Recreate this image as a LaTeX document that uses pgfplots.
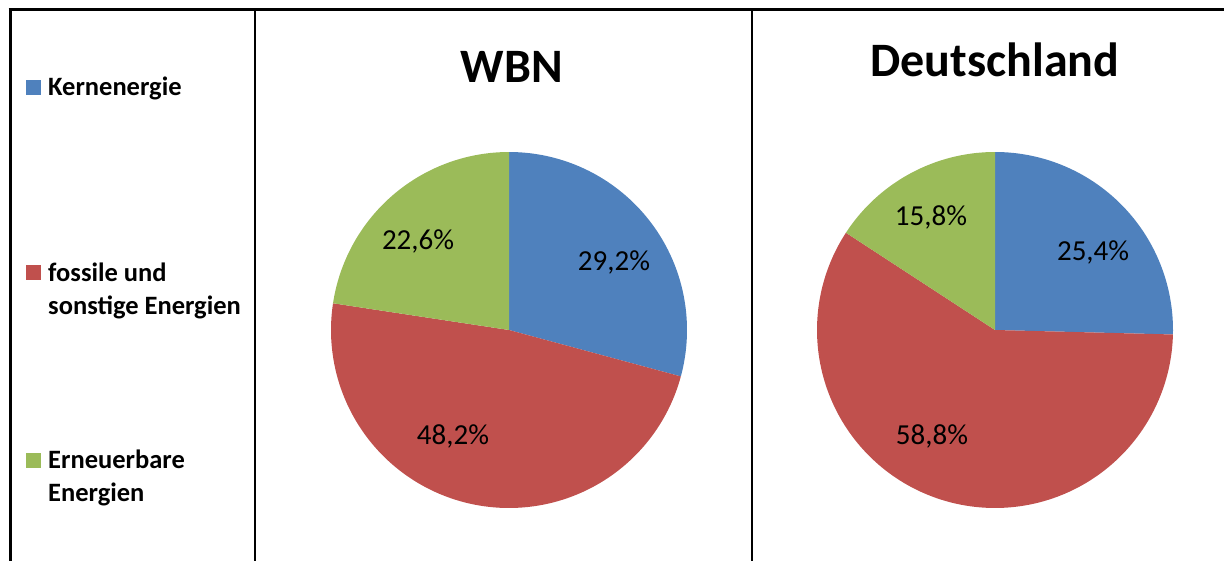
\documentclass[border=0pt]{standalone}
\usepackage{pgfplots}
\pgfplotsset{compat=1.18}
\usepackage{fontspec}
\setmainfont{Carlito}
\definecolor{kern}{HTML}{4F81BD}
\definecolor{foss}{HTML}{C0504D}
\definecolor{ern}{HTML}{9BBB59}
% values (percent)
\def\wKern{29.2}\def\wFoss{48.2}\def\wErn{22.6}
\def\dKern{25.4}\def\dFoss{58.8}\def\dErn{15.8}
\pgfplotsset{
  pieaxis/.style={hide axis, scale only axis, width=356pt, height=356pt,
    xmin=-1, xmax=1, ymin=-1, ymax=1, anchor=center, clip=false},
  slice/.style={draw=none, fill=#1, samples=150, variable=\t, forget plot},
}
\newcommand{\pctfont}{\fontsize{29}{34}\selectfont}
\begin{document}
\begin{tikzpicture}
\begin{scope}[x=1pt,y=-1pt]
\path[use as bounding box] (0,0) rectangle (1224,561);
% frame
\draw[line width=3pt] (8.5,10) -- (1224,10);
\draw[line width=3pt] (10,8.5) -- (10,561);
\draw[line width=2pt] (255,10) -- (255,561);
\draw[line width=2pt] (752,10) -- (752,561);
% legend
\fill[kern] (26,80.5) rectangle (41,95.5);
\fill[foss] (26,265.5) rectangle (41,280.5);
\fill[ern] (26,453) rectangle (41,468);
\begin{scope}[every node/.style={anchor=base west, inner sep=0pt, font=\fontsize{26.5}{30}\selectfont\bfseries}]
\node at (48,96) {Kernenergie};
\node at (48,282) {fossile und};
\node at (48,315) {sonstige Energien};
\node at (48,468) {Erneuerbare};
\node at (48,501) {Energien};
\end{scope}
% titles
\node[anchor=base, inner sep=0pt, font=\fontsize{48}{56}\selectfont\bfseries] at (512,83) {WBN};
\node[anchor=base, inner sep=0pt, font=\fontsize{48}{56}\selectfont\bfseries] at (995,77) {Deutschland};
\end{scope}
% WBN pie
\pgfmathsetmacro\aA{90}
\pgfmathsetmacro\aB{90-3.6*\wKern}
\pgfmathsetmacro\aC{\aB-3.6*\wFoss}
\pgfmathsetmacro\aD{\aC-3.6*\wErn}
\begin{axis}[pieaxis, at={(509pt,-330pt)}]
\addplot[slice=kern, domain=\aB:\aA] ({cos(\t)},{sin(\t)}) -- (axis cs:0,0) -- cycle;
\addplot[slice=foss, domain=\aC:\aB] ({cos(\t)},{sin(\t)}) -- (axis cs:0,0) -- cycle;
\addplot[slice=ern, domain=\aD:\aC] ({cos(\t)},{sin(\t)}) -- (axis cs:0,0) -- cycle;
\node[font=\pctfont] at (axis cs:0.59,0.38) {29,2\%};
\node[font=\pctfont] at (axis cs:-0.315,-0.596) {48,2\%};
\node[font=\pctfont] at (axis cs:-0.511,0.50) {22,6\%};
\end{axis}
% Deutschland pie
\pgfmathsetmacro\bB{90-3.6*\dKern}
\pgfmathsetmacro\bC{\bB-3.6*\dFoss}
\pgfmathsetmacro\bD{\bC-3.6*\dErn}
\begin{axis}[pieaxis, at={(995pt,-330pt)}]
\addplot[slice=kern, domain=\bB:\aA] ({cos(\t)},{sin(\t)}) -- (axis cs:0,0) -- cycle;
\addplot[slice=foss, domain=\bC:\bB] ({cos(\t)},{sin(\t)}) -- (axis cs:0,0) -- cycle;
\addplot[slice=ern, domain=\bD:\bC] ({cos(\t)},{sin(\t)}) -- (axis cs:0,0) -- cycle;
\node[font=\pctfont] at (axis cs:0.551,0.433) {25,4\%};
\node[font=\pctfont] at (axis cs:-0.354,-0.596) {58,8\%};
\node[font=\pctfont] at (axis cs:-0.36,0.635) {15,8\%};
\end{axis}
\end{tikzpicture}
\end{document}
